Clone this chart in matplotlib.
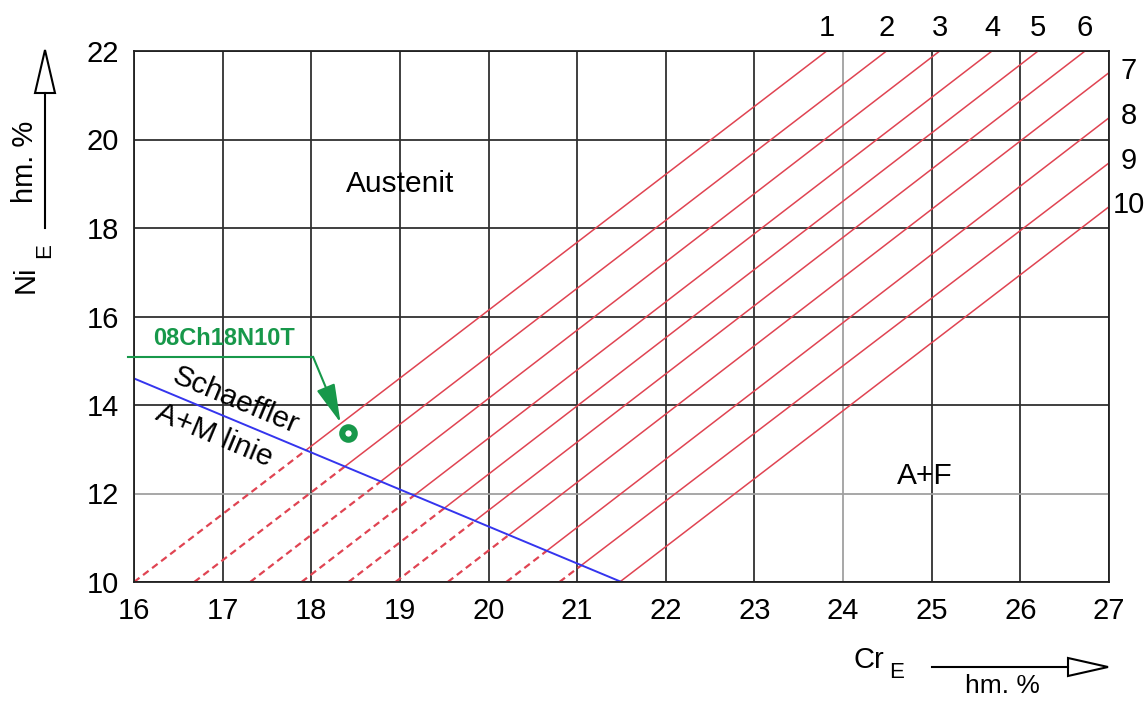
import matplotlib
matplotlib.use("Agg")
import matplotlib.pyplot as plt
from matplotlib.patches import Polygon
import numpy as np

plt.rcParams['font.family'] = ['Liberation Sans', 'DejaVu Sans']
plt.rcParams['lines.scale_dashes'] = False

# ---------------- data ----------------
cr_ticks = list(range(16, 28))
ni_ticks = list(range(10, 23, 2))
gray_cr = [24]
gray_ni = [12]

# ferrite lines: start at Ni = 10, end either at top (Ni = 22) or right edge (Cr = 27)
line_labels = ["1", "2", "3", "4", "5", "6", "7", "8", "9", "10"]
line_start_cr = [16.0, 16.68, 17.31, 17.89, 18.42, 18.95, 19.54, 20.20, 20.80, 21.48]
line_end_cr = [23.815, 24.49, 25.09, 25.68, 26.20, 26.73, 27.0, 27.0, 27.0, 27.0]
line_end_ni = [22.0, 22.0, 22.0, 22.0, 22.0, 22.0, 21.51, 20.49, 19.47, 18.48]

# Schaeffler A+M line
schaeffler_cr = [16.0, 21.5]
schaeffler_ni = [14.6, 10.0]

# steel point
steel_name = "08Ch18N10T"
steel_cr = 18.41
steel_ni = 13.36
leader_cr = [15.93, 18.02]
leader_ni = [15.09, 15.09]
arrow_tip = (18.33, 13.60)

RED = '#e04452'
BLUE = '#3535ee'
GREEN = '#17984a'
GRID = '#303030'
LGRAY = '#a0a0a0'

W, H = 1146, 702
fig = plt.figure(figsize=(W / 100, H / 100), dpi=100)
L, R, T, B = 134, 1109, 51, 582
ax = fig.add_axes([L / W, 1 - B / H, (R - L) / W, (B - T) / H])
ax.set_xlim(16, 27)
ax.set_ylim(10, 22)

# grid
for c in cr_ticks:
    ax.axvline(c, color=LGRAY if c in gray_cr else GRID, lw=1.3, zorder=1)
for n in ni_ticks:
    ax.axhline(n, color=LGRAY if n in gray_ni else GRID, lw=1.3, zorder=1)

ax.set_xticks(cr_ticks)
ax.set_yticks(ni_ticks)
ax.tick_params(length=0, labelsize=21, pad=11)
for s in ax.spines.values():
    s.set_linewidth(1.3)
    s.set_color('#202020')
    s.set_zorder(5)

bx0, bx1 = schaeffler_cr
by0, by1 = schaeffler_ni
for lab, c0, c1, n1 in zip(line_labels, line_start_cr, line_end_cr, line_end_ni):
    x0, y0 = c0, 10.0
    dx, dy = c1 - x0, n1 - y0
    A = np.array([[dx, -(bx1 - bx0)], [dy, -(by1 - by0)]])
    rhs = np.array([bx0 - x0, by0 - y0])
    t, u = np.linalg.solve(A, rhs)
    if 0 < t < 1 and 0 <= u <= 1:
        xm, ym = x0 + t * dx, y0 + t * dy
        ax.plot([x0, xm], [y0, ym], color=RED, lw=1.6, ls=(0, (5, 3.2)), zorder=3)
        ax.plot([xm, c1], [ym, n1], color=RED, lw=1.1, zorder=3)
    else:
        ax.plot([x0, c1], [y0, n1], color=RED, lw=1.1, zorder=3)
    if n1 >= 22:
        ax.annotate(lab, (c1, 22), xytext=(0, 23), textcoords='offset pixels',
                    ha='center', va='center', fontsize=21, annotation_clip=False)
    else:
        ax.annotate(lab, (27, n1), xytext=(20, 2), textcoords='offset pixels',
                    ha='center', va='center', fontsize=21, annotation_clip=False)

ax.plot(schaeffler_cr, schaeffler_ni, color=BLUE, lw=1.4, zorder=4)

# texts inside
ax.text(19.0, 19.0, "Austenit", fontsize=21.5, ha='center', va='center', zorder=6)
ax.text(24.92, 12.4, "A+F", fontsize=21.5, ha='center', va='center', zorder=6)
ax.text(17.15, 14.11, "Schaeffler", fontsize=21.5, rotation=-22.7,
        rotation_mode='anchor', ha='center', va='center', zorder=6)
ax.text(16.90, 13.32, "A+M linie", fontsize=21.5, rotation=-22.7,
        rotation_mode='anchor', ha='center', va='center', zorder=6)

# steel annotation
ax.plot(leader_cr, leader_ni, color=GREEN, lw=1.5, clip_on=False, zorder=6)
ax.annotate("", xy=arrow_tip, xytext=(leader_cr[1], leader_ni[1]),
            arrowprops=dict(arrowstyle='-|>,head_length=2.4,head_width=0.6',
                            color=GREEN, lw=1.5, shrinkA=0, shrinkB=0), zorder=6)
ax.plot([steel_cr], [steel_ni], marker='o', ms=9, mew=4.4, mec=GREEN, mfc='white',
        zorder=7)
ax.text(17.02, 15.50, steel_name, fontsize=17, fontweight='bold', color=GREEN,
        ha='center', va='center', zorder=6)

# overlay for axis labels & arrows (pixel coords)
ov = fig.add_axes([0, 0, 1, 1], zorder=10)
ov.set_xlim(0, W)
ov.set_ylim(H, 0)
ov.axis('off')
ov.patch.set_alpha(0)

# y label
ov.text(26, 279, "Ni", fontsize=21, rotation=90, ha='center', va='center')
ov.text(45, 251, "E", fontsize=16, rotation=90, ha='center', va='center')
ov.text(25, 162, "hm. %", fontsize=21, rotation=90, ha='center', va='center')
ov.plot([45, 45], [228, 93], color='black', lw=1.5)
ov.add_patch(Polygon([[35, 93], [55, 93], [45, 50]], closed=True,
                     facecolor='white', edgecolor='black', lw=1.5))

# x label
ov.text(869, 660, "Cr", fontsize=21, ha='center', va='center')
ov.text(897, 673, "E", fontsize=16, ha='center', va='center')
ov.text(1002, 686, "hm. %", fontsize=19, ha='center', va='center')
ov.plot([932, 1068], [667, 667], color='black', lw=1.5)
ov.add_patch(Polygon([[1068, 658], [1068, 676], [1108, 667]], closed=True,
                     facecolor='white', edgecolor='black', lw=1.5))

fig.savefig("out.png", dpi=100)
